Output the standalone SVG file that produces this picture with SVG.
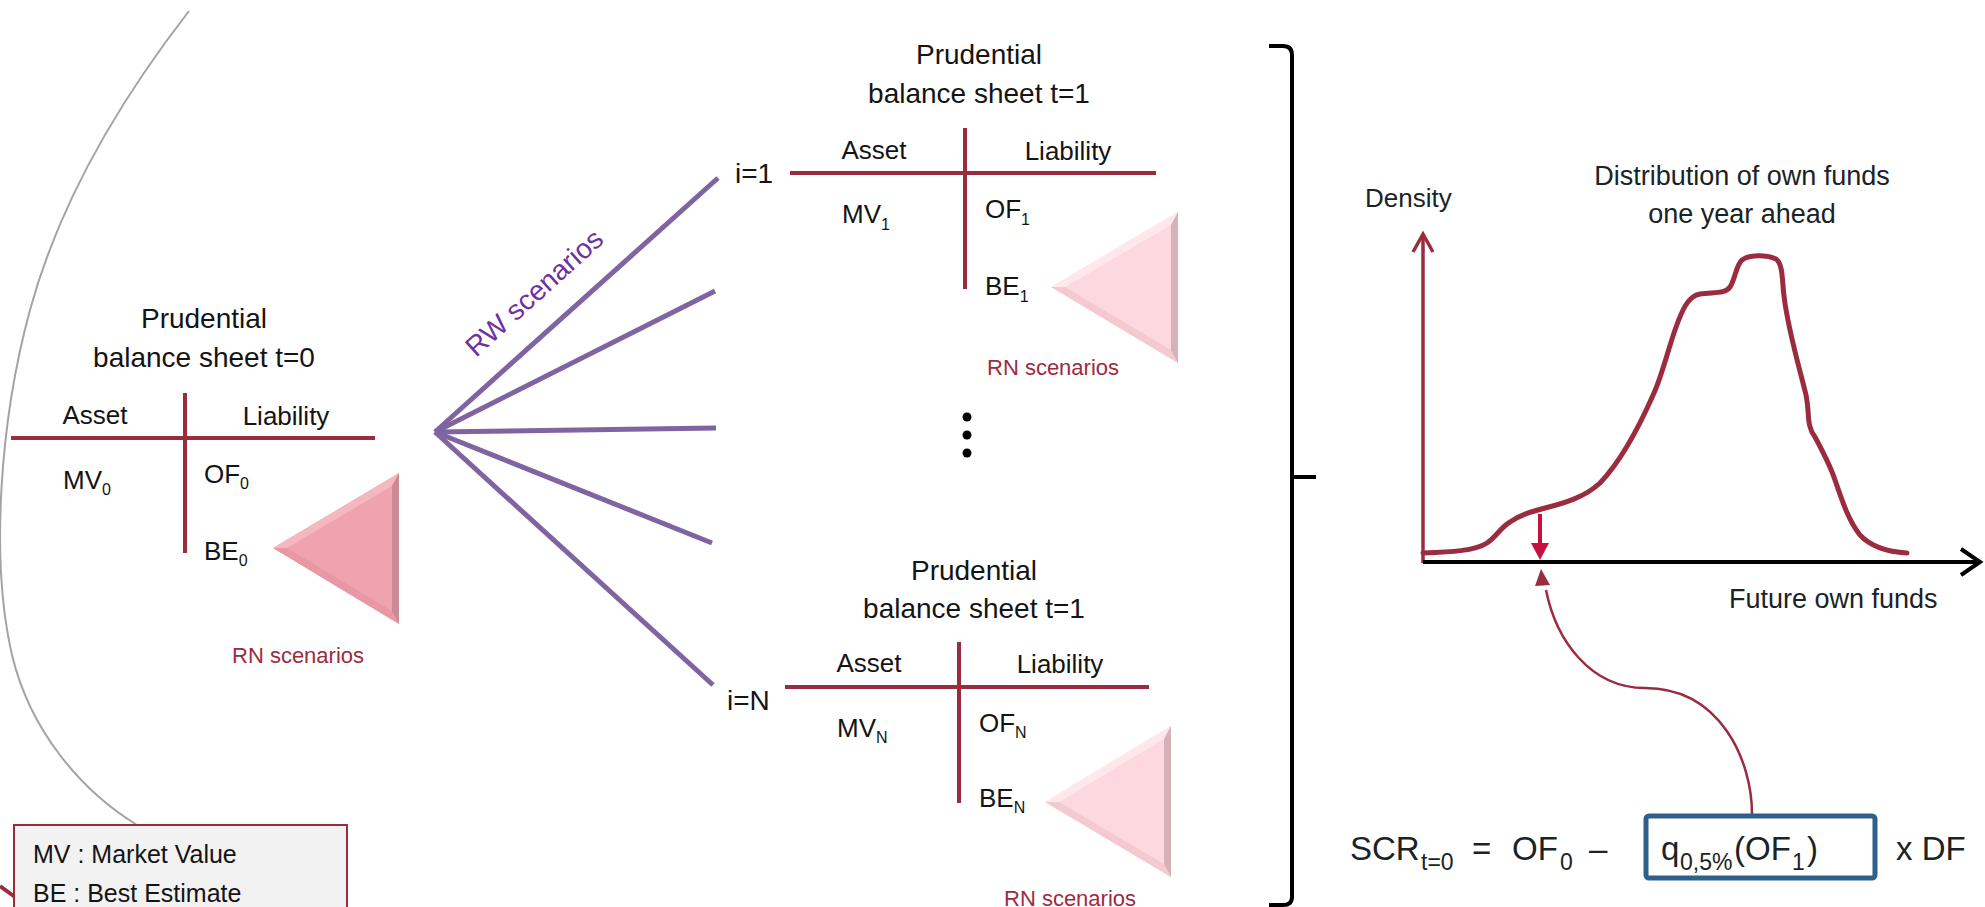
<svg xmlns="http://www.w3.org/2000/svg" width="1985" height="907" viewBox="0 0 1985 907">
<style>
text{font-family:"Liberation Sans",Arial,sans-serif;fill:#141414}
.title{font-size:28px;text-anchor:middle}
.head{font-size:26px;text-anchor:middle}
.item{font-size:26px}
.sub{font-size:16px}
.rn{font-size:22px;fill:#9b2c3f}
.idx{font-size:28px}
.ml{stroke:#9b2c3f;stroke-width:4;fill:none}
.fan{stroke:#8064a2;stroke-width:5;fill:none}
.chart{font-size:27px;fill:#1a2326}
.f{font-size:33px;fill:#1a2326}
.fs{font-size:23px;fill:#1a2326}
.tri0 .m{fill:#efa3ae}.tri0 .r{fill:#c98c96}.tri0 .t{fill:#f5b7c0}.tri0 .b{fill:#e898a4}
.tri1 .m{fill:#fdd9df}.tri1 .r{fill:#d7b1b8}.tri1 .t{fill:#ffe8ec}.tri1 .b{fill:#f4c9d0}
</style>

<!-- background arc -->
<path d="M189,11 C120,100 60,200 30,310 C0,420 -10,560 12,655 C30,730 80,790 137,825" fill="none" stroke="#a3a3a3" stroke-width="2"/>

<!-- connectors -->
<g id="connectors">
  <line class="fan" x1="435" y1="432" x2="718" y2="178"/>
  <line class="fan" x1="435" y1="432" x2="715" y2="291"/>
  <line class="fan" x1="435" y1="432" x2="716" y2="428"/>
  <line class="fan" x1="435" y1="432" x2="712" y2="543"/>
  <line class="fan" x1="435" y1="432" x2="713" y2="685"/>
  <text transform="translate(476,358) rotate(-42)" style="font-size:28px;fill:#7030a0">RW scenarios</text>
  <path d="M1752,814 C1752,760 1720,688 1645,688 C1590,688 1556,640 1546,590" fill="none" stroke="#9b2c3f" stroke-width="2.5"/>
  <polygon points="1541,569 1535,586 1550,585" fill="#9b2c3f"/>
</g>

<!-- balance sheet t=0 -->
<g id="bs0">
  <text class="title" x="204" y="328">Prudential</text>
  <text class="title" x="204" y="367">balance sheet t=0</text>
  <line class="ml" x1="11" y1="438" x2="375" y2="438"/>
  <line class="ml" x1="185" y1="393" x2="185" y2="553"/>
  <text class="head" x="95" y="424">Asset</text>
  <text class="head" x="286" y="425">Liability</text>
  <text class="item" x="63" y="489">MV<tspan class="sub" dy="6">0</tspan></text>
  <text class="item" x="204" y="483">OF<tspan class="sub" dy="6">0</tspan></text>
  <text class="item" x="204" y="560">BE<tspan class="sub" dy="6">0</tspan></text>
  <g class="tri0">
    <polygon class="m" points="273,548 399,473 399,624"/>
    <polygon class="t" points="273,548 399,473 392,486 287,548"/>
    <polygon class="b" points="273,548 287,548 392,611 399,624"/>
    <polygon class="r" points="399,473 399,624 392,611 392,486"/>
  </g>
  <text class="rn" x="232" y="663">RN scenarios</text>
</g>

<!-- balance sheet i=1 -->
<g id="bs1">
  <text class="idx" x="735" y="183">i=1</text>
  <text class="title" x="979" y="64">Prudential</text>
  <text class="title" x="979" y="103">balance sheet t=1</text>
  <line class="ml" x1="790" y1="173" x2="1156" y2="173"/>
  <line class="ml" x1="965" y1="128" x2="965" y2="289"/>
  <text class="head" x="874" y="159">Asset</text>
  <text class="head" x="1068" y="160">Liability</text>
  <text class="item" x="842" y="223">MV<tspan class="sub" dy="7">1</tspan></text>
  <text class="item" x="985" y="218">OF<tspan class="sub" dy="7">1</tspan></text>
  <text class="item" x="985" y="295">BE<tspan class="sub" dy="7">1</tspan></text>
  <g class="tri1">
    <polygon class="m" points="1051,287 1178,212 1178,363"/>
    <polygon class="t" points="1051,287 1178,212 1171,225 1065,287"/>
    <polygon class="b" points="1051,287 1065,287 1171,350 1178,363"/>
    <polygon class="r" points="1178,212 1178,363 1171,350 1171,225"/>
  </g>
  <text class="rn" x="987" y="375">RN scenarios</text>
</g>

<!-- ellipsis -->
<g id="dots" fill="#000">
  <circle cx="967" cy="417" r="4.5"/>
  <circle cx="967" cy="435" r="4.5"/>
  <circle cx="967" cy="453" r="4.5"/>
</g>

<!-- balance sheet i=N -->
<g id="bsN">
  <text class="idx" x="727" y="710">i=N</text>
  <text class="title" x="974" y="580">Prudential</text>
  <text class="title" x="974" y="618">balance sheet t=1</text>
  <line class="ml" x1="785" y1="687" x2="1149" y2="687"/>
  <line class="ml" x1="959" y1="642" x2="959" y2="803"/>
  <text class="head" x="869" y="672">Asset</text>
  <text class="head" x="1060" y="673">Liability</text>
  <text class="item" x="837" y="737">MV<tspan class="sub" dy="6">N</tspan></text>
  <text class="item" x="979" y="732">OF<tspan class="sub" dy="6">N</tspan></text>
  <text class="item" x="979" y="807">BE<tspan class="sub" dy="6">N</tspan></text>
  <g class="tri1">
    <polygon class="m" points="1045,802 1171,726 1171,877"/>
    <polygon class="t" points="1045,802 1171,726 1164,739 1059,802"/>
    <polygon class="b" points="1045,802 1059,802 1164,864 1171,877"/>
    <polygon class="r" points="1171,726 1171,877 1164,864 1164,739"/>
  </g>
  <text class="rn" x="1004" y="906">RN scenarios</text>
</g>

<!-- brace -->
<g id="brace" fill="none" stroke="#000" stroke-width="4">
  <path d="M1269,46 H1283 Q1292,46 1292,55 V897 Q1292,905 1283,905 H1269"/>
  <path d="M1292,477 H1316"/>
</g>

<!-- chart -->
<g id="chart">
  <text class="chart" x="1742" y="185" text-anchor="middle">Distribution of own funds</text>
  <text class="chart" x="1742" y="223" text-anchor="middle">one year ahead</text>
  <text class="chart" x="1365" y="207" style="font-size:26px">Density</text>
  <text class="chart" x="1729" y="608">Future own funds</text>
  <line x1="1423" y1="563" x2="1423" y2="236" stroke="#9b2c3f" stroke-width="3.5"/>
  <polyline points="1413,252 1423,234 1433,252" fill="none" stroke="#9b2c3f" stroke-width="3.5"/>
  <line x1="1423" y1="562" x2="1979" y2="562" stroke="#000" stroke-width="4"/>
  <polyline points="1961,549 1980,562 1961,575" fill="none" stroke="#000" stroke-width="4"/>
  <path d="M1423,553 C1450,552 1475,551 1487,543 C1497,536 1500,528 1510,522 C1520,515 1530,512 1545,508 C1565,503 1585,497 1600,483 C1620,462 1640,425 1654,393 C1662,375 1668,350 1675,330 C1682,310 1688,296 1700,294 C1715,292 1725,294 1730,287 C1735,280 1736,265 1742,260 C1750,254 1768,255 1776,259 C1783,264 1782,280 1784,296 C1788,330 1800,370 1806,395 C1810,415 1806,425 1815,437 C1822,450 1830,465 1835,480 C1842,500 1848,520 1860,535 C1872,548 1890,552 1907,553" fill="none" stroke="#9b2c3f" stroke-width="5" stroke-linecap="round"/>
  <line x1="1540" y1="514" x2="1540" y2="546" stroke="#c8103e" stroke-width="4"/>
  <polygon points="1531,543 1549,543 1540,560" fill="#c8103e"/>
</g>

<!-- formula -->
<g id="formula">
  <rect x="1646" y="816" width="229" height="62" rx="3" fill="#fff" stroke="#2e6089" stroke-width="5"/>
  <text class="f" x="1350" y="860">SCR</text>
  <text class="fs" x="1421" y="870">t=0</text>
  <text class="f" x="1472" y="860">=</text>
  <text class="f" x="1512" y="860">OF</text>
  <text class="fs" x="1560" y="870">0</text>
  <text class="f" x="1589" y="860">–</text>
  <text class="f" x="1661" y="860">q</text>
  <text class="fs" x="1680" y="870">0,5%</text>
  <text class="f" x="1734" y="860">(OF</text>
  <text class="fs" x="1792" y="870">1</text>
  <text class="f" x="1807" y="860">)</text>
  <text class="f" x="1896" y="860">x DF</text>
</g>

<!-- legend -->
<g id="legend">
  <line x1="0" y1="886" x2="15" y2="897" stroke="#9b2c3f" stroke-width="4"/>
  <rect x="14" y="825" width="333" height="100" fill="#f2f2f2" stroke="#9b2c3f" stroke-width="2"/>
  <text x="33" y="863" style="font-size:25px">MV : Market Value</text>
  <text x="33" y="902" style="font-size:25px">BE : Best Estimate</text>
</g>
</svg>
